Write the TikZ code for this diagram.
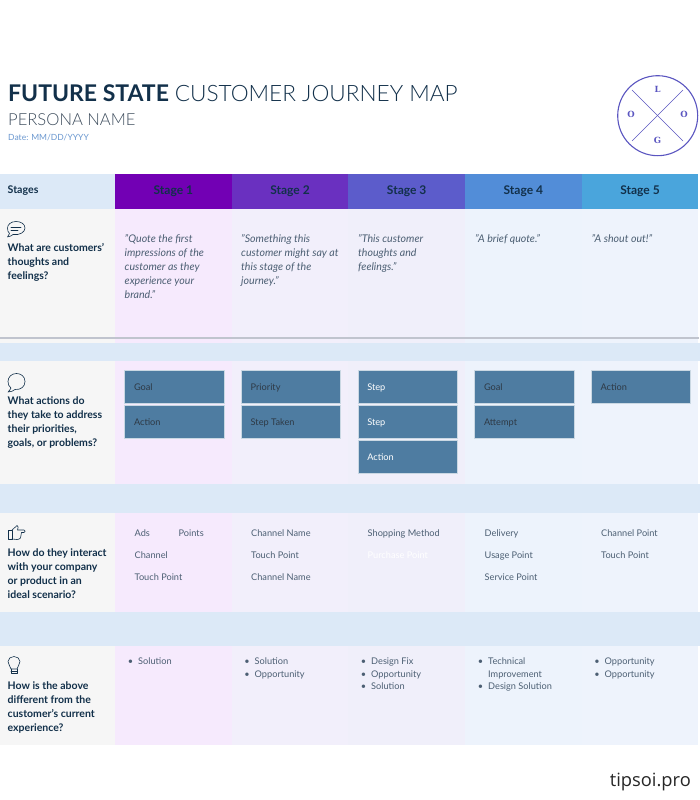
\documentclass[tikz,border=0pt]{standalone}
\usepackage{fontspec}
\setmainfont{Lato}
\newfontfamily\lightfont{Lato Light}
\newfontfamily\logofont{DejaVu Serif}
\newfontfamily\markfont{Open Sans}
\usetikzlibrary{positioning}
\definecolor{ink}{HTML}{12304A}
\definecolor{soft}{HTML}{4C5F73}
\definecolor{datecolor}{HTML}{6A97CF}
\definecolor{logoblue}{HTML}{5A55C0}
\definecolor{band}{HTML}{DCE9F7}
\definecolor{boxblue}{HTML}{4E7CA1}
\definecolor{stage a}{HTML}{7200B4}
\definecolor{stage b}{HTML}{6A30C0}
\definecolor{stage c}{HTML}{5C5CCB}
\definecolor{stage d}{HTML}{528DD8}
\definecolor{stage e}{HTML}{4AA5DC}
\definecolor{side}{HTML}{F6F6F6}
\definecolor{col a}{HTML}{F6EAFD}
\definecolor{col b}{HTML}{F2EFFB}
\definecolor{col c}{HTML}{F0EFFA}
\definecolor{col d}{HTML}{EDF3FC}
\definecolor{col e}{HTML}{EEF3FC}
\definecolor{rulegrey}{HTML}{C0C4CE}
\tikzset{
    grid/.style={rectangle,inner sep=0pt,outer sep=0pt,minimum width=116.67pt},
    stagecell/.style={grid,minimum height=35pt,text=ink,font=\fontsize{12}{14}\selectfont\bfseries},
    sidecell/.style={grid,minimum width=115pt,fill=side},
    bandcell/.style={rectangle,inner sep=0pt,outer sep=0pt,minimum width=700pt,fill=band},
    question/.style={anchor=north west,inner sep=0pt,align=left,text=ink,font=\fontsize{10.5}{14}\selectfont\bfseries},
    quote/.style={anchor=north west,inner sep=0pt,align=left,text=soft,font=\fontsize{10.6}{14}\selectfont\itshape},
    item/.style={anchor=north west,inner sep=0pt,align=left,text=soft,font=\fontsize{9.2}{12.6}\selectfont},
    rowitem/.style={item,font=\fontsize{9.2}{22}\selectfont},
    logoletter/.style={text=logoblue,inner sep=0pt,font=\logofont\fontsize{8.5}{10}\selectfont\bfseries},
    stepbox/.style={rectangle,draw=white!70!boxblue,line width=.6pt,fill=boxblue,minimum width=99.5pt,minimum height=33pt,inner sep=0pt,outer sep=0pt,anchor=north west,text=#1,text height=8.5pt,text depth=1pt,font=\fontsize{9.2}{11}\selectfont},
    stepbox/.default=soft!60!black,
    icon/.style={draw=ink,line width=.6pt,line join=round,line cap=round}
}
\newcommand{\boxtext}[1]{\hspace{9.5pt}\makebox[90pt][l]{#1}}
\newcommand{\dotmark}{\llap{\textbullet\hspace{5pt}}}
\begin{document}
\begin{tikzpicture}[x=1pt,y=-1pt]
    \useasboundingbox (0,0) rectangle (700,800);

    % title block
    \node (title) [anchor=base west,inner sep=0pt,text=ink,font=\fontsize{23}{26}\selectfont] at (8,101) {\textbf{FUTURE STATE} {\lightfont\fontsize{22.6}{26}\selectfont CUSTOMER JOURNEY MAP}};
    \node (persona) [anchor=base west,inner sep=0pt,text=soft!80!black,font=\lightfont\fontsize{16.6}{18}\selectfont] at (8,125) {PERSONA NAME};
    \node (date) [anchor=base west,inner sep=0pt,text=datecolor,font=\fontsize{8.5}{10}\selectfont] at (8,140) {Date: MM/DD/YYYY};

    % logo
    \node (logo) [circle,draw=logoblue,line width=1.1pt,minimum size=80pt,inner sep=0pt] at (657.7,115.7) {};
    \coordinate (logo a) at (632,90);
    \coordinate (logo b) at (683,141);
    \coordinate (logo c) at (683,90);
    \coordinate (logo d) at (632,141);
    \draw[logoblue,line width=.6pt] (logo a) -- (logo b);
    \draw[logoblue,line width=.6pt] (logo c) -- (logo d);
    \node[logoletter] (logo l) at (657.5,89) {L};
    \node[logoletter] (logo o1) at (631,114.5) {O};
    \node[logoletter] (logo o2) at (684,114.5) {O};
    \node[logoletter] (logo g) at (657.5,140) {G};

    % header row
    \node[stagecell,minimum width=115pt,fill=band,anchor=north west] (stages) at (0,174) {};
    \node[stagecell,fill=stage a,right=0pt of stages] (stage 1) {Stage 1};
    \node[stagecell,fill=stage b,right=0pt of stage 1] (stage 2) {Stage 2};
    \node[stagecell,fill=stage c,right=0pt of stage 2] (stage 3) {Stage 3};
    \node[stagecell,fill=stage d,right=0pt of stage 3] (stage 4) {Stage 4};
    \node[stagecell,fill=stage e,right=0pt of stage 4] (stage 5) {Stage 5};
    \node (stages text) [anchor=base west,inner sep=0pt,text=ink,font=\fontsize{10.6}{12}\selectfont\bfseries] at (7.5,193) {Stages};

    % thoughts row
    \node[sidecell,minimum height=134pt,below=0pt of stages] (side a) {};
    \node[grid,minimum height=134pt,fill=col a,below=0pt of stage 1] (cell a1) {};
    \node[grid,minimum height=134pt,fill=col b,below=0pt of stage 2] (cell a2) {};
    \node[grid,minimum height=134pt,fill=col c,below=0pt of stage 3] (cell a3) {};
    \node[grid,minimum height=134pt,fill=col d,below=0pt of stage 4] (cell a4) {};
    \node[grid,minimum height=134pt,fill=col e,below=0pt of stage 5] (cell a5) {};
    \coordinate (rule l) at (0,338.2);
    \coordinate (rule r) at (699,338.2);
    \draw[line width=2.4pt,rulegrey] (rule l) -- (rule r);

    % first band, actions row
    \node[bandcell,minimum height=18pt,anchor=north west] (band a) at (0,343) {};
    \node[sidecell,minimum height=123pt,anchor=north west] (side b) at (0,361) {};
    \node[grid,minimum height=123pt,fill=col a,right=0pt of side b] (cell b1) {};
    \node[grid,minimum height=123pt,fill=col b,right=0pt of cell b1] (cell b2) {};
    \node[grid,minimum height=123pt,fill=col c,right=0pt of cell b2] (cell b3) {};
    \node[grid,minimum height=123pt,fill=col d,right=0pt of cell b3] (cell b4) {};
    \node[grid,minimum height=123pt,fill=col e,right=0pt of cell b4] (cell b5) {};

    % second band, channels row
    \node[bandcell,minimum height=29pt,anchor=north west] (band b) at (0,484) {};
    \node[sidecell,minimum height=99pt,anchor=north west] (side c) at (0,513) {};
    \node[grid,minimum height=99pt,fill=col a,right=0pt of side c] (cell c1) {};
    \node[grid,minimum height=99pt,fill=col b,right=0pt of cell c1] (cell c2) {};
    \node[grid,minimum height=99pt,fill=col c,right=0pt of cell c2] (cell c3) {};
    \node[grid,minimum height=99pt,fill=col d,right=0pt of cell c3] (cell c4) {};
    \node[grid,minimum height=99pt,fill=col e,right=0pt of cell c4] (cell c5) {};

    % third band, differences row
    \node[bandcell,minimum height=34pt,anchor=north west] (band c) at (0,612) {};
    \node[sidecell,minimum height=99pt,anchor=north west] (side d) at (0,646) {};
    \node[grid,minimum height=99pt,fill=col a,right=0pt of side d] (cell d1) {};
    \node[grid,minimum height=99pt,fill=col b,right=0pt of cell d1] (cell d2) {};
    \node[grid,minimum height=99pt,fill=col c,right=0pt of cell d2] (cell d3) {};
    \node[grid,minimum height=99pt,fill=col d,right=0pt of cell d3] (cell d4) {};
    \node[grid,minimum height=99pt,fill=col e,right=0pt of cell d4] (cell d5) {};

    % questions
    \node[question] (ask a) at (7.5,243.5) {What are customers'\\thoughts and\\feelings?};
    \node[question] (ask b) at (7.5,396.5) {What actions do\\they take to address\\their priorities,\\goals, or problems?};
    \node[question] (ask c) at (7.5,548.5) {How do they interact\\with your company\\or product in an\\ideal scenario?};
    \node[question] (ask d) at (7.5,681.5) {How is the above\\different from the\\customer's current\\experience?};

    % icons
    \draw[icon] (9.5,233.5) .. controls (8,235) and (8,236) .. (7.5,237) .. controls (10,236.5) and (12,235.5) .. (13,234.5) .. controls (20,235.5) and (25,232) .. (25,228) .. controls (25,224) and (21,221.5) .. (16,221.5) .. controls (11,221.5) and (7.5,224.5) .. (7.5,228) .. controls (7.5,230.5) and (8,232) .. (9.5,233.5) -- cycle;
    \draw[icon] (11,227) -- (21,227);
    \draw[icon] (11,230.5) -- (18,230.5);
    \draw[icon] (11,388) .. controls (10,390) and (9,391) .. (8,392) .. controls (11,392) and (13,391) .. (15,389.5) .. controls (21,390) and (25,386.5) .. (25,381.5) .. controls (25,376.5) and (21,373.5) .. (16.5,373.5) .. controls (11.5,373.5) and (8,377) .. (8,381.5) .. controls (8,384.5) and (9,386.5) .. (11,388) -- cycle;
    \draw[icon] (8,530) rectangle (12,539);
    \draw[icon] (12,530) -- (16,526.5) -- (17,525.5) .. controls (18.5,525.5) and (18.5,528) .. (17.5,530) -- (24,530) .. controls (25.5,530) and (25.5,532.5) .. (24,532.5) -- (21.5,532.5) -- (20.5,538) .. controls (20,539) and (18,539.5) .. (17,539.5) -- (12,539);
    \draw[icon] (11,669) .. controls (10.5,666) and (8,664.5) .. (8,661.5) .. controls (8,658.5) and (11,656.5) .. (14,656.5) .. controls (17,656.5) and (20,658.5) .. (20,661.5) .. controls (20,664.5) and (17.5,666) .. (17,669) -- cycle;
    \draw[icon] (11,669) -- (11,673) -- (17,673) -- (17,669);
    \draw[icon] (11,671) -- (17,671);

    % quotes
    \node[quote] (quote 1) at (124.5,234) {"Quote the first\\impressions of the\\customer as they\\experience your\\brand."};
    \node[quote] (quote 2) at (241,234) {"Something this\\customer might say at\\this stage of the\\journey."};
    \node[quote] (quote 3) at (358,234) {"This customer\\thoughts and\\feelings."};
    \node[quote] (quote 4) at (475,234) {"A brief quote."};
    \node[quote] (quote 5) at (591.5,234) {"A shout out!"};

    % action boxes
    \node[stepbox] (goal 1) at (124.5,370.5) {\boxtext{Goal}};
    \node[stepbox] (action 1) at (124.5,405.5) {\boxtext{Action}};
    \node[stepbox] (priority 2) at (241.2,370.5) {\boxtext{Priority}};
    \node[stepbox] (taken 2) at (241.2,405.5) {\boxtext{Step Taken}};
    \node[stepbox=white] (step 3a) at (357.8,370.5) {\boxtext{Step}};
    \node[stepbox=white] (step 3b) at (357.8,405.5) {\boxtext{Step}};
    \node[stepbox=white] (action 3) at (357.8,440.5) {\boxtext{Action}};
    \node[stepbox] (goal 4) at (474.5,370.5) {\boxtext{Goal}};
    \node[stepbox] (attempt 4) at (474.5,405.5) {\boxtext{Attempt}};
    \node[stepbox] (action 5) at (591,370.5) {\boxtext{Action}};

    % channels
    \node[rowitem] (ads 1) at (134.5,529.7) {Ads\\Channel\\Touch Point};
    \node[item] (points 1) at (178.5,529.7) {Points};
    \node[rowitem] (names 2) at (251,529.7) {Channel Name\\Touch Point\\Channel Name};
    \node[item] (method 3) at (367.5,529.7) {Shopping Method};
    \node[item,text=white] (purchase 3) at (367.5,551.7) {Purchase Point};
    \node[rowitem] (points 4) at (484.5,529.7) {Delivery\\Usage Point\\Service Point};
    \node[rowitem] (points 5) at (601,529.7) {Channel Point\\Touch Point};

    % differences
    \node[item] (fix 1) at (138,657.7) {\dotmark Solution};
    \node[item] (fix 2) at (254.5,657.7) {\dotmark Solution\\\dotmark Opportunity};
    \node[item] (fix 3) at (371,657.7) {\dotmark Design Fix\\\dotmark Opportunity\\\dotmark Solution};
    \node[item] (fix 4) at (488,657.7) {\dotmark Technical\\Improvement\\\dotmark Design Solution};
    \node[item] (fix 5) at (604.5,657.7) {\dotmark Opportunity\\\dotmark Opportunity};

    % watermark
    \node (mark) [anchor=base east,inner sep=0pt,text=black!85,font=\markfont\fontsize{18.3}{20}\selectfont] at (691,786) {tipsoi.pro};
\end{tikzpicture}
\end{document}
